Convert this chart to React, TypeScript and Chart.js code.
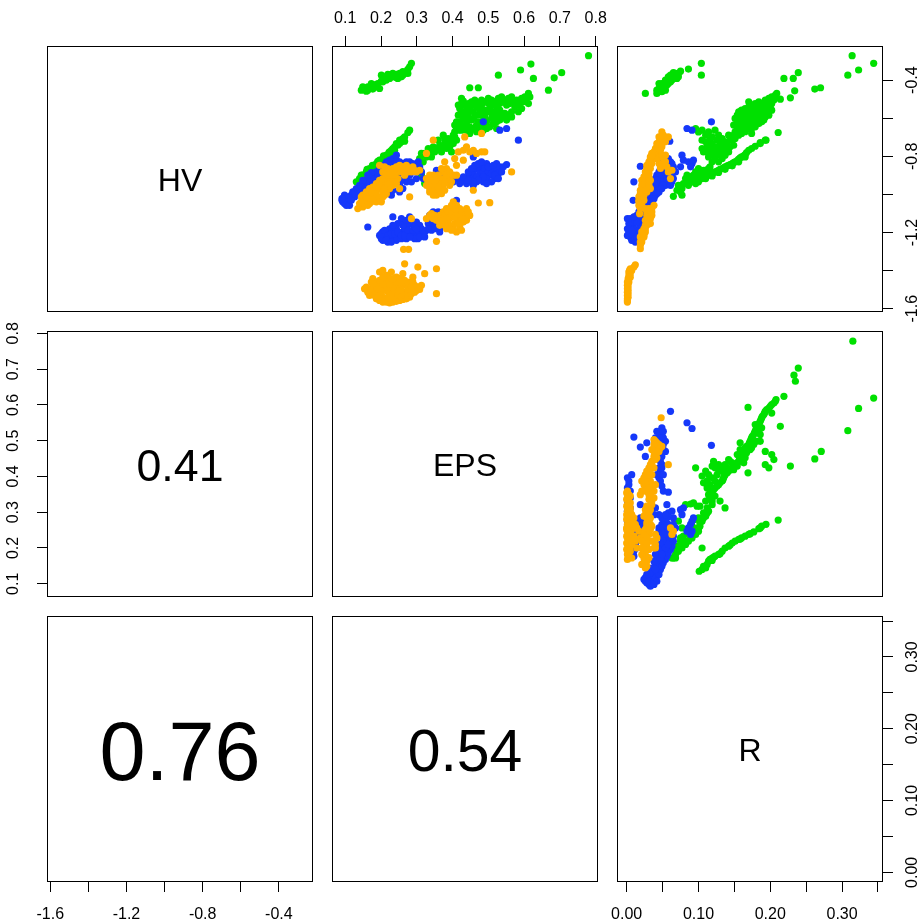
import React, { useEffect, useRef } from "react";
import { Chart, registerables } from "chart.js";

Chart.register(...registerables);

const FONT = '"Liberation Sans", Arial, Helvetica, sans-serif';
const GREEN = "#00E000";
const BLUE = "#1538FA";
const ORANGE = "#FFAD00";

// variable names (diagonal)
const varNames = ["HV", "EPS", "R"];
// correlations (lower panels)
const corEpsHv = 0.41;
const corRHv = 0.76;
const corREps = 0.54;

// axis ranges
const hvRange = [-1.617, -0.221];
const epsRange = [0.063, 0.8065];
const rRange = [-0.0135, 0.357];

// ticks
const hvTicks = [-1.6, -1.4, -1.2, -1.0, -0.8, -0.6, -0.4];
const hvTickLabels = ["-1.6", "", "-1.2", "", "-0.8", "", "-0.4"];
const epsTicks = [0.1, 0.2, 0.3, 0.4, 0.5, 0.6, 0.7, 0.8];
const epsTickLabels = ["0.1", "0.2", "0.3", "0.4", "0.5", "0.6", "0.7", "0.8"];
const rTicks = [0, 0.05, 0.1, 0.15, 0.2, 0.25, 0.3, 0.35];
const rTickLabels = ["0.00", "", "0.10", "", "0.20", "", "0.30", ""];

// ---- EPS (x) vs HV (y) ----
const epsHvGreen = [
  [0.145,-0.453],[0.154,-0.447],[0.163,-0.435],[0.173,-0.43],[0.182,-0.426],[0.196,-0.444],[0.191,-0.418],[0.201,-0.374],
  [0.205,-0.409],[0.215,-0.4],[0.224,-0.391],[0.229,-0.37],[0.233,-0.383],[0.243,-0.37],[0.252,-0.365],[0.257,-0.383],
  [0.261,-0.374],[0.271,-0.356],[0.275,-0.344],[0.285,-0.312],[0.168,-0.444],[0.177,-0.435],[0.187,-0.423],[0.21,-0.395],
  [0.219,-0.383],[0.238,-0.377],[0.247,-0.391],[0.266,-0.365],
  [0.149,-0.435],[0.159,-0.458],[0.173,-0.418],[0.187,-0.435],[0.201,-0.405],[0.21,-0.383],[0.219,-0.37],[0.233,-0.365],
  [0.243,-0.388],[0.252,-0.377],[0.261,-0.356],[0.275,-0.365],[0.28,-0.33],[0.177,-0.447],[0.163,-0.453],
  [0.78,-0.272],[0.619,-0.316],[0.59,-0.347],[0.528,-0.374],[0.705,-0.361],[0.684,-0.388],[0.626,-0.391],[0.668,-0.453],
  [0.448,-0.44],[0.472,-0.44],[0.612,-0.47],[0.616,-0.488],
  [0.425,-0.496],[0.43,-0.51],[0.42,-0.549],[0.416,-0.584],[0.43,-0.566],[0.439,-0.558],[0.448,-0.549],[0.458,-0.566],
  [0.467,-0.54],[0.476,-0.558],[0.481,-0.584],[0.49,-0.593],[0.495,-0.566],[0.5,-0.523],[0.504,-0.549],[0.514,-0.531],
  [0.523,-0.54],[0.532,-0.558],[0.542,-0.514],[0.551,-0.531],[0.56,-0.523],[0.57,-0.514],[0.574,-0.54],[0.579,-0.531],
  [0.588,-0.523],[0.598,-0.514],[0.607,-0.496],[0.523,-0.584],[0.509,-0.601],[0.495,-0.619],[0.486,-0.636],[0.467,-0.636],
  [0.458,-0.654],[0.448,-0.645],[0.439,-0.619],[0.43,-0.601],[0.42,-0.619],[0.411,-0.654],[0.406,-0.671],[0.402,-0.689],
  [0.425,-0.663],[0.439,-0.663],[0.448,-0.68],[0.467,-0.671],[0.476,-0.654],[0.486,-0.663],[0.504,-0.645],[0.514,-0.628],
  [0.523,-0.619],[0.532,-0.61],[0.542,-0.593],[0.546,-0.575],[0.556,-0.584],[0.565,-0.566],[0.523,-0.654],[0.472,-0.619],
  [0.458,-0.601],[0.444,-0.593],[0.434,-0.584],
  [0.416,-0.531],[0.425,-0.523],[0.434,-0.531],[0.444,-0.523],[0.453,-0.514],[0.462,-0.505],[0.472,-0.523],[0.481,-0.505],
  [0.49,-0.514],[0.5,-0.496],[0.509,-0.505],[0.518,-0.514],[0.528,-0.496],[0.537,-0.488],[0.546,-0.505],[0.556,-0.496],
  [0.565,-0.488],[0.579,-0.505],[0.593,-0.496],[0.602,-0.488],[0.612,-0.523],[0.593,-0.549],[0.584,-0.566],[0.565,-0.593],
  [0.551,-0.61],[0.537,-0.584],[0.528,-0.601],[0.518,-0.566],[0.509,-0.575],[0.49,-0.558],[0.481,-0.619],[0.467,-0.584],
  [0.453,-0.61],[0.439,-0.636],[0.425,-0.636],[0.416,-0.663],[0.406,-0.636],[0.411,-0.619],[0.425,-0.575],[0.444,-0.566],
  [0.458,-0.531],[0.495,-0.654],[0.514,-0.601],[0.481,-0.531],[0.532,-0.523],
  [0.374,-0.689],[0.388,-0.707],[0.378,-0.733],[0.364,-0.742],[0.355,-0.759],[0.369,-0.777],[0.383,-0.759],[0.392,-0.75],
  [0.402,-0.733],[0.411,-0.715],[0.346,-0.75],[0.336,-0.777],[0.327,-0.803],[0.313,-0.785],[0.308,-0.812],[0.318,-0.829],
  [0.397,-0.777],[0.308,-0.864],[0.313,-0.899],[0.322,-0.943],[0.336,-0.917],
  [0.36,-0.715],[0.378,-0.707],[0.392,-0.724],[0.35,-0.777],[0.332,-0.759],[0.322,-0.785],[0.341,-0.803],[0.364,-0.759],
  [0.388,-0.742],[0.406,-0.698],[0.397,-0.715],[0.374,-0.75],
  [0.131,-0.934],[0.14,-0.917],[0.149,-0.899],[0.159,-0.882],[0.168,-0.864],[0.177,-0.855],[0.187,-0.838],[0.196,-0.82],
  [0.205,-0.812],[0.215,-0.794],[0.224,-0.777],[0.233,-0.759],[0.243,-0.733],[0.252,-0.715],[0.261,-0.707],[0.275,-0.675],
  [0.154,-0.917],[0.163,-0.896],[0.173,-0.878],[0.182,-0.868],[0.191,-0.847],[0.201,-0.829],[0.21,-0.815],[0.219,-0.803],
  [0.229,-0.785],[0.238,-0.768],[0.247,-0.742],[0.257,-0.724],[0.266,-0.721],
  [0.145,-0.899],[0.161,-0.868],[0.176,-0.847],[0.191,-0.826],[0.207,-0.798],[0.222,-0.78],[0.238,-0.75],[0.252,-0.733],
  [0.138,-0.934],[0.168,-0.882],[0.196,-0.838],[0.229,-0.768],[0.266,-0.698],[0.28,-0.663],
];
const epsHvBlue = [
  [0.093,-1.022],[0.103,-1.013],[0.107,-1.039],[0.098,-1.048],[0.112,-1.022],[0.091,-1.031],[0.117,-1.004],[0.121,-0.987],
  [0.131,-0.969],[0.14,-0.952],[0.149,-0.943],[0.159,-0.926],[0.168,-0.917],[0.177,-0.89],[0.187,-0.882],[0.196,-0.864],
  [0.205,-0.847],[0.215,-0.829],[0.224,-0.82],[0.233,-0.812],[0.243,-0.82],[0.252,-0.829],[0.261,-0.838],[0.271,-0.829],
  [0.28,-0.829],[0.289,-0.838],[0.299,-0.847],[0.243,-0.794],[0.173,-0.885],[0.154,-0.961],[0.163,-0.952],[0.233,-0.899],
  [0.243,-0.926],[0.252,-0.952],[0.261,-0.969],[0.271,-0.917],[0.28,-0.899],[0.289,-0.882],[0.308,-0.855],[0.318,-0.917],
  [0.271,-0.934],[0.224,-0.969],[0.229,-1.004],[0.112,-1.057],[0.103,-1.057],[0.126,-1.013],
  [0.093,-1.039],[0.107,-1.018],[0.117,-1.031],[0.126,-0.987],[0.135,-0.978],[0.145,-0.961],[0.138,-0.996],[0.149,-0.978],
  [0.159,-0.969],[0.168,-0.943],[0.177,-0.934],[0.187,-0.917],[0.196,-0.899],[0.205,-0.882],[0.215,-0.864],[0.224,-0.855],
  [0.233,-0.847],[0.243,-0.838],[0.252,-0.864],[0.261,-0.882],[0.271,-0.864],[0.28,-0.855],[0.289,-0.864],[0.238,-0.882],
  [0.247,-0.899],[0.257,-0.926],[0.229,-0.943],[0.21,-0.926],[0.191,-0.908],[0.173,-0.917],[0.304,-0.829],[0.313,-0.882],
  [0.299,-0.917],[0.285,-0.934],[0.215,-0.978],[0.233,-0.978],[0.252,-0.987],[0.149,-0.926],[0.163,-0.899],[0.098,-1.004],
  [0.091,-1.022],
  [0.355,-0.873],[0.364,-0.917],[0.374,-0.899],[0.411,-0.917],[0.425,-0.926],[0.439,-0.917],[0.448,-0.899],[0.458,-0.882],
  [0.467,-0.864],[0.476,-0.855],[0.486,-0.847],[0.495,-0.838],[0.504,-0.855],[0.514,-0.873],[0.504,-0.899],[0.495,-0.917],
  [0.486,-0.934],[0.467,-0.934],[0.448,-0.934],[0.476,-0.89],[0.523,-0.864],[0.528,-0.89],[0.518,-0.917],[0.509,-0.934],
  [0.458,-0.952],[0.495,-0.943],[0.551,-0.843],[0.411,-1.031],[0.458,-0.917],[0.439,-0.943],[0.467,-0.908],[0.486,-0.882],
  [0.43,-0.908],[0.444,-0.882],[0.453,-0.864],[0.462,-0.847],[0.472,-0.838],[0.481,-0.829],[0.49,-0.864],[0.5,-0.882],
  [0.509,-0.89],[0.518,-0.899],[0.486,-0.908],[0.472,-0.926],[0.458,-0.934],[0.444,-0.926],[0.5,-0.855],[0.514,-0.847],
  [0.523,-0.838],[0.532,-0.855],[0.537,-0.882],[0.383,-0.908],[0.392,-0.926],[0.402,-0.934],[0.42,-0.943],[0.528,-0.917],
  [0.542,-0.855],
  [0.486,-0.619],[0.532,-0.663],[0.551,-0.654],[0.584,-0.715],[0.458,-0.803],
  [0.196,-1.215],[0.205,-1.197],[0.215,-1.215],[0.224,-1.197],[0.233,-1.223],[0.243,-1.215],[0.252,-1.206],[0.261,-1.197],
  [0.271,-1.206],[0.28,-1.197],[0.289,-1.215],[0.299,-1.206],[0.308,-1.197],[0.318,-1.215],[0.327,-1.188],[0.336,-1.171],
  [0.346,-1.162],[0.355,-1.153],[0.364,-1.18],[0.374,-1.162],[0.205,-1.241],[0.219,-1.25],[0.229,-1.232],[0.243,-1.241],
  [0.257,-1.232],[0.271,-1.232],[0.285,-1.223],[0.303,-1.232],[0.224,-1.18],[0.238,-1.188],[0.21,-1.223],[0.201,-1.232],
  [0.233,-1.118],[0.257,-1.127],[0.28,-1.118],[0.285,-1.153],[0.299,-1.145],[0.308,-1.162],[0.336,-1.11],[0.346,-1.092],
  [0.36,-1.092],[0.163,-1.171],[0.243,-1.18],[0.266,-1.18],[0.364,-1.197],[0.355,-1.127],[0.275,-1.162],[0.313,-1.18],
  [0.332,-1.153],
  [0.201,-1.206],[0.21,-1.188],[0.219,-1.215],[0.229,-1.206],[0.238,-1.206],[0.247,-1.197],[0.257,-1.215],[0.266,-1.215],
  [0.275,-1.188],[0.289,-1.188],[0.294,-1.232],[0.308,-1.223],[0.322,-1.197],[0.332,-1.18],[0.341,-1.188],[0.35,-1.18],
  [0.36,-1.127],[0.369,-1.145],[0.294,-1.171],[0.261,-1.162],[0.247,-1.153],[0.233,-1.162],[0.215,-1.241],[0.229,-1.25],
  [0.322,-1.223],[0.336,-1.145],[0.346,-1.127],[0.271,-1.136],[0.299,-1.18],[0.28,-1.223],
];
const epsHvOrange = [
  [0.135,-1.074],[0.149,-1.066],[0.159,-1.039],[0.168,-1.022],[0.177,-1.004],[0.187,-0.987],[0.196,-0.969],[0.205,-0.952],
  [0.215,-0.934],[0.224,-0.917],[0.233,-0.899],[0.243,-0.882],[0.252,-0.864],[0.196,-0.847],[0.205,-0.882],[0.215,-0.89],
  [0.224,-0.873],[0.233,-0.864],[0.243,-0.855],[0.252,-0.847],[0.261,-0.855],[0.28,-0.864],[0.289,-0.855],[0.299,-0.882],
  [0.308,-0.873],[0.149,-1.004],[0.159,-0.987],[0.168,-0.969],[0.177,-0.961],[0.187,-0.943],[0.196,-0.926],[0.205,-0.917],
  [0.219,-0.899],[0.229,-0.934],[0.243,-0.943],[0.252,-0.969],[0.28,-1.013],[0.173,-1.039],[0.182,-1.022],[0.191,-1.013],
  [0.201,-1.039],[0.145,-1.013],[0.154,-1.031],[0.163,-1.013],[0.182,-0.978],[0.191,-0.961],[0.215,-0.952],[0.205,-0.987],
  [0.21,-1.004],[0.233,-0.952],[0.201,-0.934],
  [0.14,-1.048],[0.154,-1.048],[0.168,-1.048],[0.187,-1.039],[0.196,-1.022],[0.205,-1.013],[0.215,-0.996],[0.224,-0.969],
  [0.238,-0.926],[0.247,-0.917],[0.257,-0.882],[0.266,-0.873],[0.275,-0.882],[0.285,-0.882],[0.294,-0.873],[0.271,-0.847],
  [0.21,-0.855],[0.219,-0.864],[0.229,-0.89],[0.238,-0.899],[0.187,-1.004],[0.177,-1.031],[0.163,-1.057],[0.145,-1.039],
  [0.224,-0.943],[0.266,-0.899],[0.159,-1.013],[0.173,-0.987],[0.196,-0.943],[0.21,-0.969],
  [0.327,-0.952],[0.336,-0.969],[0.346,-0.987],[0.355,-1.004],[0.364,-0.978],[0.374,-0.952],[0.383,-0.934],[0.392,-0.917],
  [0.364,-0.934],[0.355,-0.917],[0.346,-0.899],[0.336,-0.934],[0.327,-0.917],[0.374,-0.882],[0.383,-0.864],[0.378,-0.829],
  [0.388,-0.882],[0.355,-0.943],[0.369,-0.961],[0.378,-0.978],[0.392,-0.952],[0.402,-0.899],[0.36,-0.899],[0.336,-0.899],
  [0.332,-0.934],[0.341,-0.952],[0.35,-0.969],[0.36,-0.987],[0.369,-0.996],[0.341,-0.917],[0.35,-0.934],[0.36,-0.961],
  [0.374,-0.917],[0.383,-0.899],[0.392,-0.882],[0.378,-0.934],[0.397,-0.934],[0.346,-1.004],[0.336,-0.987],
  [0.416,-0.777],[0.43,-0.768],[0.439,-0.75],[0.448,-0.777],[0.458,-0.768],[0.467,-0.785],[0.481,-0.777],[0.49,-0.777],
  [0.406,-0.812],[0.43,-0.82],[0.411,-0.847],[0.346,-0.715],[0.327,-0.785],[0.369,-0.864],[0.434,-0.698],[0.481,-0.68],
  [0.565,-0.882],[0.504,-1.043],[0.472,-1.045],[0.458,-0.978],[0.411,-0.899],
  [0.336,-1.11],[0.346,-1.127],[0.355,-1.136],[0.364,-1.11],[0.374,-1.092],[0.383,-1.074],[0.392,-1.092],[0.402,-1.11],
  [0.411,-1.127],[0.42,-1.11],[0.43,-1.092],[0.439,-1.074],[0.448,-1.11],[0.411,-1.057],[0.402,-1.039],[0.392,-1.074],
  [0.383,-1.145],[0.392,-1.162],[0.402,-1.18],[0.411,-1.197],[0.42,-1.171],[0.43,-1.145],[0.439,-1.136],[0.383,-1.18],
  [0.364,-1.162],[0.355,-1.246],[0.285,-1.127],[0.327,-1.127],[0.263,-1.288],[0.277,-1.288],[0.42,-1.074],[0.392,-1.127],
  [0.406,-1.153],[0.425,-1.136],[0.388,-1.118],
  [0.341,-1.101],[0.35,-1.11],[0.36,-1.118],[0.369,-1.127],[0.378,-1.11],[0.388,-1.092],[0.397,-1.101],[0.406,-1.118],
  [0.416,-1.101],[0.425,-1.092],[0.434,-1.11],[0.444,-1.092],[0.397,-1.057],[0.406,-1.074],[0.416,-1.153],[0.425,-1.188],
  [0.397,-1.188],[0.378,-1.162],[0.374,-1.136],[0.434,-1.127],
  [0.159,-1.486],[0.168,-1.495],[0.177,-1.513],[0.187,-1.521],[0.196,-1.53],[0.205,-1.539],[0.215,-1.548],[0.224,-1.556],
  [0.233,-1.548],[0.243,-1.539],[0.252,-1.53],[0.261,-1.521],[0.271,-1.513],[0.28,-1.504],[0.289,-1.495],[0.299,-1.504],
  [0.308,-1.499],[0.177,-1.442],[0.187,-1.46],[0.196,-1.477],[0.205,-1.495],[0.215,-1.504],[0.224,-1.513],[0.233,-1.504],
  [0.243,-1.495],[0.252,-1.486],[0.261,-1.477],[0.271,-1.469],[0.28,-1.46],[0.289,-1.46],[0.187,-1.548],[0.196,-1.556],
  [0.205,-1.565],[0.215,-1.565],[0.224,-1.569],[0.233,-1.565],[0.243,-1.561],[0.252,-1.556],[0.261,-1.551],[0.271,-1.548],
  [0.28,-1.539],[0.196,-1.407],[0.205,-1.399],[0.215,-1.425],[0.224,-1.442],[0.233,-1.46],[0.243,-1.434],[0.252,-1.442],
  [0.261,-1.416],[0.266,-1.364],[0.303,-1.381],[0.322,-1.416],[0.355,-1.39],[0.355,-1.521],[0.21,-1.442],[0.219,-1.469],
  [0.229,-1.486],[0.238,-1.521],[0.247,-1.513],[0.257,-1.504],[0.201,-1.513],[0.191,-1.495],[0.182,-1.486],[0.173,-1.46],
  [0.168,-1.53],[0.247,-1.469],
  [0.163,-1.513],[0.173,-1.504],[0.182,-1.53],[0.191,-1.539],[0.201,-1.548],[0.21,-1.556],[0.219,-1.539],[0.229,-1.53],
  [0.238,-1.539],[0.247,-1.53],[0.257,-1.539],[0.266,-1.53],[0.275,-1.526],[0.285,-1.521],[0.294,-1.513],[0.304,-1.486],
  [0.313,-1.477],[0.275,-1.495],[0.285,-1.486],[0.294,-1.477],[0.233,-1.486],[0.215,-1.486],[0.205,-1.469],[0.196,-1.451],
  [0.187,-1.486],[0.177,-1.469],[0.224,-1.469],[0.243,-1.46],[0.257,-1.46],[0.266,-1.451],[0.233,-1.442],[0.219,-1.425],
  [0.229,-1.407],[0.205,-1.434],[0.154,-1.495],[0.289,-1.434],
];

// ---- R (x) vs HV (y) ----
const rHvGreen = [
  [0.026,-0.47],[0.042,-0.47],[0.045,-0.444],[0.047,-0.426],[0.049,-0.418],[0.051,-0.435],[0.054,-0.453],[0.056,-0.409],
  [0.058,-0.4],[0.061,-0.391],[0.063,-0.383],[0.065,-0.374],[0.068,-0.383],[0.07,-0.391],[0.072,-0.365],[0.075,-0.353],
  [0.086,-0.342],[0.104,-0.312],[0.104,-0.374],[0.047,-0.453],[0.049,-0.461],[0.054,-0.426],[0.058,-0.418],[0.061,-0.409],
  [0.065,-0.391],[0.045,-0.418],
  [0.045,-0.461],[0.049,-0.435],[0.051,-0.418],[0.054,-0.4],[0.056,-0.426],[0.058,-0.383],[0.063,-0.4],[0.068,-0.365],
  [0.07,-0.374],[0.072,-0.383],[0.047,-0.435],[0.042,-0.453],[0.051,-0.453],[0.061,-0.374],[0.065,-0.36],
  [0.314,-0.272],[0.344,-0.312],[0.323,-0.347],[0.308,-0.374],[0.219,-0.391],[0.232,-0.391],[0.239,-0.361],[0.262,-0.447],
  [0.27,-0.44],[0.234,-0.456],[0.228,-0.493],[0.214,-0.5],[0.209,-0.47],[0.211,-0.675],
  [0.156,-0.566],[0.16,-0.558],[0.165,-0.549],[0.17,-0.54],[0.174,-0.531],[0.179,-0.523],[0.184,-0.514],[0.188,-0.523],
  [0.193,-0.505],[0.198,-0.496],[0.202,-0.488],[0.207,-0.479],[0.202,-0.558],[0.198,-0.549],[0.193,-0.566],[0.188,-0.584],
  [0.184,-0.601],[0.179,-0.619],[0.174,-0.636],[0.17,-0.654],[0.165,-0.671],[0.16,-0.68],[0.156,-0.689],[0.151,-0.707],
  [0.154,-0.619],[0.158,-0.601],[0.163,-0.593],[0.167,-0.584],[0.172,-0.575],[0.177,-0.566],[0.181,-0.558],[0.186,-0.549],
  [0.191,-0.54],[0.195,-0.531],[0.191,-0.61],[0.184,-0.566],[0.174,-0.593],[0.165,-0.619],[0.158,-0.636],[0.17,-0.514],
  [0.174,-0.68],[0.186,-0.733],[0.193,-0.715],[0.181,-0.584],[0.198,-0.584],[0.156,-0.636],[0.16,-0.654],[0.163,-0.628],
  [0.154,-0.584],[0.158,-0.566],[0.163,-0.566],[0.167,-0.558],[0.172,-0.549],[0.177,-0.54],[0.181,-0.531],[0.186,-0.531],
  [0.191,-0.523],[0.195,-0.514],[0.2,-0.514],[0.205,-0.505],[0.198,-0.523],[0.193,-0.54],[0.188,-0.549],[0.184,-0.549],
  [0.179,-0.549],[0.174,-0.558],[0.17,-0.566],[0.165,-0.575],[0.16,-0.584],[0.156,-0.593],[0.151,-0.601],[0.149,-0.636],
  [0.154,-0.663],[0.158,-0.671],[0.163,-0.663],[0.167,-0.645],[0.172,-0.619],[0.177,-0.601],[0.181,-0.61],[0.186,-0.584],
  [0.191,-0.566],[0.195,-0.566],[0.2,-0.54],[0.202,-0.523],[0.151,-0.671],[0.156,-0.654],[0.17,-0.601],[0.165,-0.645],
  [0.179,-0.645],[0.174,-0.654],[0.149,-0.689],[0.188,-0.619],[0.184,-0.628],[0.193,-0.593],
  [0.096,-0.654],[0.105,-0.663],[0.114,-0.672],[0.123,-0.663],[0.128,-0.689],[0.133,-0.707],[0.137,-0.724],[0.142,-0.689],
  [0.144,-0.715],[0.105,-0.715],[0.11,-0.724],[0.114,-0.742],[0.119,-0.733],[0.123,-0.75],[0.128,-0.759],[0.119,-0.777],
  [0.114,-0.803],[0.128,-0.794],[0.133,-0.777],[0.137,-0.75],[0.133,-0.812],[0.123,-0.812],[0.119,-0.829],[0.105,-0.759],
  [0.107,-0.777],[0.112,-0.75],[0.147,-0.707],[0.149,-0.742],
  [0.1,-0.672],[0.11,-0.689],[0.119,-0.698],[0.126,-0.715],[0.13,-0.733],[0.14,-0.742],[0.144,-0.75],[0.135,-0.759],
  [0.126,-0.777],[0.116,-0.759],[0.112,-0.777],[0.121,-0.794],[0.128,-0.829],[0.137,-0.794],[0.142,-0.777],[0.116,-0.715],
  [0.119,-0.89],[0.123,-0.882],[0.128,-0.873],[0.133,-0.864],[0.137,-0.855],[0.142,-0.847],[0.147,-0.838],[0.151,-0.829],
  [0.156,-0.815],[0.16,-0.803],[0.165,-0.791],[0.17,-0.768],[0.179,-0.747],[0.186,-0.728],[0.194,-0.715],[0.11,-0.917],
  [0.114,-0.899],[0.121,-0.885],[0.126,-0.878],[0.13,-0.868],[0.135,-0.861],[0.14,-0.85],[0.144,-0.843],[0.149,-0.833],
  [0.154,-0.822],[0.158,-0.808],[0.163,-0.798],[0.167,-0.78],
  [0.119,-0.903],[0.128,-0.885],[0.137,-0.868],[0.147,-0.85],[0.156,-0.829],[0.165,-0.803],[0.174,-0.759],
  [0.065,-1.01],[0.075,-0.987],[0.077,-0.969],[0.072,-0.952],[0.082,-0.917],[0.086,-0.926],[0.091,-0.917],[0.093,-0.899],
  [0.096,-0.882],[0.098,-0.908],[0.1,-0.934],[0.102,-0.917],[0.105,-0.89],[0.107,-0.873],[0.114,-0.864],[0.11,-0.899],
  [0.116,-0.855],[0.1,-0.864],[0.091,-0.934],
  [0.079,-0.943],[0.084,-0.899],[0.089,-0.908],[0.096,-0.917],[0.102,-0.89],[0.11,-0.873],[0.112,-0.882],[0.105,-0.917],
  [0.096,-0.943],[0.086,-0.952],[0.077,-1.004],[0.07,-0.978],
];
const rHvBlue = [
  [0.001,-1.127],[0.003,-1.153],[0.001,-1.18],[0.003,-1.206],[0.005,-1.223],[0.007,-1.241],[0.01,-1.232],[0.012,-1.215],
  [0.014,-1.197],[0.017,-1.18],[0.019,-1.162],[0.021,-1.145],[0.005,-1.188],[0.007,-1.171],[0.01,-1.153],[0.003,-1.215],
  [0.001,-1.215],[0.012,-1.25],[0.014,-1.11],[0.017,-1.092],[0.019,-1.074],[0.021,-1.057],[0.024,-1.039],[0.026,-1.022],
  [0.028,-1.004],[0.031,-0.987],[0.033,-0.969],[0.035,-0.952],[0.038,-0.934],[0.04,-0.917],[0.042,-0.899],[0.045,-0.882],
  [0.047,-0.864],[0.049,-0.847],[0.051,-0.829],[0.054,-0.812],[0.056,-0.838],[0.058,-0.864],[0.061,-0.882],[0.063,-0.899],
  [0.065,-0.917],[0.058,-0.934],[0.054,-0.952],[0.049,-0.969],[0.045,-0.987],[0.04,-1.004],[0.035,-1.022],[0.031,-1.039],
  [0.026,-1.057],[0.021,-1.092],[0.017,-1.11],[0.01,-0.934],[0.009,-1.031],[0.019,-0.852],[0.06,-0.721],[0.049,-0.815],
  [0.054,-0.855],[0.061,-0.855],[0.065,-0.868],[0.056,-0.899],[0.051,-0.934],[0.047,-0.952],[0.042,-0.969],[0.038,-0.996],
  [0.033,-1.013],[0.028,-1.039],
  [0.005,-1.127],[0.007,-1.145],[0.005,-1.162],[0.01,-1.18],[0.012,-1.188],[0.007,-1.206],[0.012,-1.232],[0.017,-1.206],
  [0.019,-1.188],[0.021,-1.171],[0.024,-1.153],[0.024,-1.11],[0.026,-1.092],[0.028,-1.074],[0.031,-1.057],[0.033,-1.039],
  [0.035,-1.039],[0.038,-1.013],[0.04,-0.987],[0.042,-0.978],[0.045,-0.961],[0.047,-0.934],[0.049,-0.917],[0.051,-0.899],
  [0.054,-0.882],[0.056,-0.864],[0.058,-0.847],[0.061,-0.829],[0.063,-0.838],[0.065,-0.855],[0.061,-0.908],[0.056,-0.926],
  [0.051,-0.952],[0.047,-0.969],[0.042,-0.996],[0.038,-1.022],[0.033,-1.048],[0.026,-1.074],[0.021,-1.11],[0.019,-1.127],
  [0.014,-1.145],[0.01,-1.118],[0.003,-1.18],[0.007,-1.188],[0.014,-1.223],[0.058,-0.812],[0.054,-0.838],[0.051,-0.864],
  [0.049,-0.882],[0.047,-0.899],[0.042,-0.926],[0.04,-0.943],[0.035,-0.978],[0.031,-1.004],[0.026,-1.039],
  [0.084,-0.654],[0.091,-0.663],[0.118,-0.619],[0.077,-0.794],[0.079,-0.82],[0.086,-0.829],[0.091,-0.838],[0.093,-0.82],
  [0.089,-0.855],[0.075,-0.855],[0.068,-0.882],[0.063,-0.934],[0.061,-0.952],
];
const rHvOrange = [
  [0.049,-0.672],[0.058,-0.698],[0.049,-0.715],[0.047,-0.742],[0.045,-0.759],[0.042,-0.777],[0.04,-0.785],[0.038,-0.794],
  [0.035,-0.812],[0.033,-0.829],[0.031,-0.855],[0.028,-0.882],[0.026,-0.899],[0.026,-0.917],[0.024,-0.934],[0.024,-0.952],
  [0.021,-0.969],[0.021,-0.987],[0.019,-1.004],[0.019,-1.022],[0.017,-1.039],[0.017,-1.057],[0.019,-1.074],[0.018,-1.101],
  [0.038,-0.812],[0.04,-0.803],[0.035,-0.838],[0.033,-0.864],[0.031,-0.89],[0.028,-0.917],[0.026,-0.934],[0.026,-0.961],
  [0.024,-0.978],[0.024,-1.004],[0.021,-1.031],[0.045,-0.794],[0.042,-0.812],[0.045,-0.838],[0.047,-0.864],[0.049,-0.847],
  [0.054,-0.829],[0.063,-0.873],[0.061,-0.917],[0.031,-0.934],[0.028,-0.952],[0.033,-0.969],[0.028,-0.987],
  [0.047,-0.707],[0.045,-0.724],[0.042,-0.75],[0.04,-0.768],[0.038,-0.777],[0.035,-0.794],[0.033,-0.812],[0.031,-0.838],
  [0.028,-0.864],[0.026,-0.882],[0.024,-0.908],[0.021,-0.926],[0.021,-0.952],[0.019,-0.978],[0.019,-0.996],[0.017,-1.013],
  [0.017,-1.031],[0.028,-0.847],[0.031,-0.829],[0.033,-0.803],[0.035,-0.785],[0.04,-0.759],[0.042,-0.733],[0.045,-0.698],
  [0.051,-0.689],[0.054,-0.724],[0.049,-0.75],[0.047,-0.768],[0.049,-0.794],[0.051,-0.812],[0.054,-0.794],[0.056,-0.855],
  [0.058,-0.882],[0.031,-0.908],[0.033,-0.926],[0.031,-0.952],[0.026,-0.978],[0.024,-1.031],[0.021,-1.048],[0.019,-1.057],
  [0.026,-1.074],[0.028,-1.092],[0.031,-1.11],[0.033,-1.127],[0.031,-1.145],[0.028,-1.162],[0.026,-1.18],[0.024,-1.197],
  [0.021,-1.215],[0.021,-1.232],[0.019,-1.25],[0.019,-1.285],[0.035,-1.074],[0.038,-1.057],[0.035,-1.11],[0.033,-1.153],
  [0.026,-1.197],[0.024,-1.223],
  [0.028,-1.11],[0.031,-1.127],[0.028,-1.145],[0.026,-1.162],[0.024,-1.18],[0.021,-1.197],[0.019,-1.223],[0.019,-1.267],
  [0.021,-1.25],[0.033,-1.092],[0.035,-1.092],[0.031,-1.074],[0.024,-1.215],[0.026,-1.136],
  [0.012,-1.369],[0.01,-1.381],[0.005,-1.39],[0.003,-1.407],[0.003,-1.425],[0.002,-1.442],[0.001,-1.46],[0.001,-1.477],
  [0.001,-1.495],[0.001,-1.513],[0.001,-1.53],[0.001,-1.548],[0.001,-1.565],[0.005,-1.416],[0.007,-1.399],[0.003,-1.46],
  [0.002,-1.486],[0.003,-1.442],[0.002,-1.469],[0.002,-1.504],[0.002,-1.539],[0.004,-1.399],[0.001,-1.556],[0.005,-1.434],
  [0.002,-1.521],
];

// ---- R (x) vs EPS (y) ----
const rEpsGreen = [
  [0.315,0.778],[0.239,0.703],[0.233,0.683],[0.235,0.666],[0.344,0.619],[0.323,0.59],[0.308,0.528],[0.271,0.47],
  [0.262,0.449],[0.228,0.429],[0.219,0.624],[0.208,0.615],[0.202,0.577],[0.214,0.54],[0.169,0.593],[0.193,0.47],
  [0.202,0.461],[0.205,0.447],[0.193,0.433],[0.198,0.424],[0.169,0.41],
  [0.207,0.61],[0.202,0.601],[0.198,0.591],[0.193,0.582],[0.191,0.573],[0.188,0.564],[0.186,0.554],[0.184,0.545],
  [0.181,0.536],[0.179,0.526],[0.177,0.517],[0.174,0.508],[0.172,0.498],[0.17,0.489],[0.165,0.48],[0.163,0.47],
  [0.16,0.461],[0.158,0.452],[0.156,0.442],[0.151,0.433],[0.147,0.424],[0.142,0.415],[0.137,0.405],[0.135,0.396],
  [0.133,0.387],[0.128,0.377],[0.123,0.368],[0.119,0.359],[0.114,0.349],[0.186,0.498],[0.184,0.526],[0.179,0.545],
  [0.174,0.48],[0.165,0.452],[0.163,0.438],[0.158,0.494],[0.154,0.429],[0.149,0.419],[0.144,0.442],[0.14,0.424],
  [0.133,0.415],[0.128,0.433],[0.121,0.442],[0.119,0.429],[0.126,0.405],[0.11,0.415],[0.105,0.401],[0.096,0.424],
  [0.107,0.382],[0.112,0.368],[0.116,0.377],[0.123,0.387],[0.13,0.331],[0.137,0.312],[0.119,0.321],[0.116,0.34],
  [0.102,0.317],[0.093,0.326],[0.082,0.321],[0.114,0.303],[0.11,0.289],[0.105,0.275],[0.102,0.261],[0.1,0.247],
  [0.096,0.238],[0.091,0.228],[0.086,0.219],[0.082,0.21],[0.077,0.2],[0.072,0.191],[0.068,0.182],[0.065,0.172],
  [0.107,0.298],[0.112,0.312],[0.096,0.28],[0.093,0.256],[0.086,0.242],[0.079,0.233],[0.075,0.219],[0.07,0.205],
  [0.105,0.2],[0.077,0.256],[0.072,0.275],[0.075,0.228],
  [0.205,0.605],[0.2,0.596],[0.195,0.587],[0.192,0.577],[0.189,0.568],[0.187,0.559],[0.185,0.55],[0.182,0.54],
  [0.18,0.531],[0.178,0.522],[0.175,0.512],[0.173,0.503],[0.171,0.494],[0.167,0.484],[0.164,0.475],[0.161,0.466],
  [0.159,0.456],[0.157,0.447],[0.154,0.438],[0.149,0.428],[0.144,0.419],[0.14,0.41],[0.136,0.401],[0.134,0.391],
  [0.13,0.382],[0.126,0.373],[0.121,0.363],[0.116,0.354],[0.188,0.536],[0.186,0.517],[0.181,0.498],[0.177,0.489],
  [0.172,0.475],[0.167,0.466],[0.163,0.456],[0.154,0.461],[0.158,0.475],[0.147,0.438],[0.142,0.447],[0.137,0.433],
  [0.133,0.424],[0.128,0.419],[0.123,0.424],[0.114,0.405],[0.112,0.387],[0.119,0.396],[0.123,0.345],[0.119,0.331],
  [0.11,0.331],[0.098,0.317],[0.089,0.323],
  [0.112,0.298],[0.107,0.284],[0.102,0.27],[0.1,0.256],[0.098,0.247],[0.093,0.238],[0.089,0.228],[0.084,0.219],
  [0.079,0.21],[0.075,0.2],[0.07,0.191],[0.068,0.172],[0.063,0.172],[0.091,0.261],[0.084,0.252],[0.1,0.284],
  [0.101,0.135],[0.107,0.149],[0.112,0.154],[0.114,0.163],[0.119,0.172],[0.123,0.177],[0.128,0.182],[0.133,0.191],
  [0.137,0.2],[0.142,0.205],[0.147,0.214],[0.151,0.219],[0.156,0.224],[0.16,0.228],[0.165,0.233],[0.17,0.238],
  [0.177,0.245],[0.184,0.254],[0.188,0.261],[0.194,0.266],[0.211,0.278],[0.11,0.144],[0.116,0.168],[0.121,0.174],
  [0.105,0.14],[0.119,0.165],[0.13,0.184],[0.144,0.208],[0.158,0.225],[0.172,0.24],[0.186,0.256],
];
const rEpsBlue = [
  [0.026,0.107],[0.031,0.098],[0.033,0.093],[0.035,0.103],[0.038,0.117],[0.04,0.126],[0.042,0.135],[0.045,0.144],
  [0.047,0.154],[0.049,0.163],[0.051,0.172],[0.054,0.182],[0.056,0.191],[0.058,0.2],[0.061,0.21],[0.063,0.219],
  [0.058,0.219],[0.054,0.228],[0.049,0.238],[0.047,0.247],[0.045,0.256],[0.049,0.266],[0.054,0.275],[0.058,0.266],
  [0.061,0.256],[0.065,0.266],[0.063,0.238],[0.054,0.21],[0.049,0.2],[0.045,0.182],[0.042,0.163],[0.04,0.154],
  [0.038,0.144],[0.035,0.126],[0.031,0.117],[0.026,0.117],[0.024,0.112],[0.042,0.121],[0.033,0.107],[0.035,0.117],
  [0.028,0.103],[0.031,0.107],[0.038,0.107],[0.04,0.117],[0.045,0.126],[0.047,0.14],[0.049,0.149],[0.051,0.159],
  [0.054,0.168],[0.056,0.177],[0.058,0.186],[0.061,0.196],[0.063,0.205],[0.065,0.219],[0.065,0.233],[0.061,0.228],
  [0.056,0.219],[0.051,0.219],[0.047,0.233],[0.045,0.247],[0.051,0.256],[0.056,0.261],[0.061,0.247],[0.056,0.242],
  [0.051,0.238],[0.047,0.21],[0.045,0.196],[0.04,0.182],[0.038,0.163],[0.035,0.144],[0.033,0.131],[0.028,0.126],
  [0.04,0.14],[0.047,0.172],[0.054,0.2],[0.058,0.21],[0.049,0.182],[0.042,0.107],[0.038,0.098],[0.056,0.284],
  [0.058,0.298],[0.049,0.284],[0.054,0.293],
  [0.068,0.256],[0.075,0.307],[0.077,0.293],[0.079,0.312],[0.086,0.256],[0.089,0.266],[0.091,0.275],[0.093,0.284],
  [0.091,0.247],[0.089,0.238],[0.084,0.247],[0.063,0.303],[0.065,0.284],[0.056,0.321],[0.045,0.293],[0.04,0.312],
  [0.038,0.293],
  [0.001,0.396],[0.003,0.377],[0.005,0.359],[0.007,0.405],[0.005,0.34],[0.003,0.321],[0.001,0.303],[0.003,0.284],
  [0.005,0.266],[0.007,0.247],[0.01,0.238],[0.012,0.228],[0.014,0.219],[0.017,0.275],[0.019,0.284],[0.021,0.266],
  [0.01,0.21],[0.007,0.2],[0.005,0.219],[0.012,0.256],[0.014,0.247],[0.017,0.238],[0.01,0.177],[0.019,0.321],
  [0.003,0.387],[0.001,0.368],[0.003,0.349],[0.001,0.331],[0.005,0.312],[0.003,0.293],[0.001,0.275],[0.005,0.256],
  [0.007,0.238],[0.007,0.228],[0.012,0.21],[0.014,0.2],[0.01,0.191],[0.012,0.247],[0.017,0.256],[0.019,0.266],
  [0.024,0.275],
  [0.01,0.51],[0.019,0.482],[0.026,0.456],[0.028,0.494],[0.042,0.526],[0.047,0.526],[0.049,0.517],[0.051,0.508],
  [0.054,0.498],[0.051,0.489],[0.049,0.48],[0.054,0.47],[0.047,0.461],[0.045,0.447],[0.049,0.433],[0.047,0.41],
  [0.045,0.396],[0.051,0.359],[0.058,0.356],[0.049,0.536],[0.04,0.508],[0.061,0.582],[0.084,0.55],[0.091,0.534],
  [0.118,0.487],[0.045,0.424],[0.042,0.405],
  [0.045,0.526],[0.049,0.508],[0.047,0.494],[0.051,0.475],[0.049,0.456],[0.047,0.442],[0.049,0.424],[0.051,0.405],
  [0.047,0.387],[0.049,0.373],[0.045,0.508],[0.051,0.526],
];
const rEpsOrange = [
  [0.001,0.359],[0.003,0.349],[0.001,0.34],[0.003,0.331],[0.001,0.321],[0.003,0.312],[0.001,0.303],[0.0,0.293],
  [0.001,0.284],[0.003,0.275],[0.001,0.266],[0.0,0.256],[0.001,0.247],[0.003,0.238],[0.001,0.228],[0.003,0.219],
  [0.001,0.21],[0.003,0.2],[0.005,0.191],[0.001,0.182],[0.007,0.172],[0.005,0.312],[0.005,0.256],[0.005,0.238],
  [0.007,0.293],[0.007,0.275],[0.012,0.266],[0.014,0.256],[0.017,0.247],[0.01,0.233],[0.012,0.219],[0.014,0.2],
  [0.007,0.21],[0.019,0.228],
  [0.0,0.354],[0.005,0.345],[0.0,0.336],[0.005,0.326],[0.0,0.317],[0.005,0.303],[0.003,0.289],[0.0,0.28],
  [0.005,0.27],[0.003,0.261],[0.0,0.252],[0.005,0.242],[0.0,0.233],[0.005,0.224],[0.0,0.214],[0.005,0.205],
  [0.0,0.196],[0.003,0.186],[0.001,0.168],[0.007,0.252],[0.01,0.261],[0.01,0.284],
  [0.048,0.564],[0.038,0.503],[0.04,0.498],[0.042,0.494],[0.045,0.489],[0.04,0.48],[0.038,0.47],[0.04,0.461],
  [0.042,0.452],[0.038,0.447],[0.035,0.442],[0.033,0.433],[0.031,0.424],[0.028,0.415],[0.026,0.405],[0.024,0.396],
  [0.021,0.387],[0.024,0.377],[0.026,0.368],[0.028,0.359],[0.031,0.349],[0.033,0.34],[0.035,0.331],[0.033,0.321],
  [0.031,0.312],[0.028,0.303],[0.026,0.293],[0.028,0.284],[0.031,0.275],[0.033,0.266],[0.031,0.256],[0.028,0.247],
  [0.026,0.238],[0.024,0.228],[0.026,0.219],[0.024,0.21],[0.026,0.2],[0.024,0.191],[0.026,0.182],[0.024,0.172],
  [0.028,0.163],[0.021,0.154],[0.026,0.144],[0.045,0.47],[0.047,0.48],[0.049,0.484],[0.058,0.433],[0.035,0.405],
  [0.033,0.387],[0.031,0.377],[0.028,0.387],[0.035,0.368],[0.038,0.359],[0.04,0.377],[0.033,0.368],[0.021,0.359],
  [0.019,0.349],[0.042,0.228],[0.04,0.21],[0.038,0.2],[0.035,0.219],[0.061,0.256],[0.065,0.247],[0.063,0.238],
  [0.042,0.484],[0.038,0.489],[0.035,0.475],[0.042,0.466],[0.038,0.456],[0.04,0.447],[0.035,0.433],[0.038,0.424],
  [0.031,0.415],[0.033,0.405],[0.026,0.396],[0.028,0.405],[0.026,0.382],[0.031,0.368],[0.026,0.359],[0.033,0.349],
  [0.031,0.336],[0.038,0.34],[0.035,0.321],[0.028,0.317],[0.033,0.307],[0.026,0.307],[0.031,0.298],[0.024,0.289],
  [0.033,0.284],[0.028,0.27],[0.035,0.261],[0.028,0.261],[0.026,0.252],[0.033,0.252],[0.031,0.238],[0.024,0.238],
  [0.028,0.228],[0.021,0.219],[0.028,0.21],[0.021,0.2],[0.028,0.196],[0.021,0.182],[0.026,0.168],[0.024,0.159],
  [0.028,0.149],[0.031,0.173],[0.031,0.196],[0.038,0.219],[0.04,0.238],[0.04,0.2],
];

// ---- layout (pixels) ----
const COL_X = [47, 332, 617];
const ROW_Y = [46, 331, 616];
const CELL = 266;
const MARGIN = 50;
const TICK_FONT = 16;
const LABEL_FONT = 32;
const POINT_RADIUS = 3.6;
const corFont = (r: number) => 109 * r;

type Series = { data: number[][]; color: string; order: number };
type Axis = { side: "top" | "bottom" | "left" | "right"; ticks: number[]; labels: string[] };
type PanelProps = {
  row: number;
  col: number;
  xRange: number[];
  yRange: number[];
  series?: Series[];
  xAxis?: Axis;
  yAxis?: Axis;
  text?: string;
  textSize?: number;
};

function Panel({ row, col, xRange, yRange, series = [], xAxis, yAxis, text, textSize = LABEL_FONT }: PanelProps) {
  const ref = useRef<HTMLCanvasElement | null>(null);
  const W = CELL + 2 * MARGIN;

  useEffect(() => {
    const canvas = ref.current;
    if (!canvas) return;
    const makeScale = (range: number[], axis: Axis | undefined, horizontal: boolean): any => ({
      type: "linear",
      min: range[0],
      max: range[1],
      position: axis ? axis.side : horizontal ? "bottom" : "left",
      display: !!axis,
      grid: {
        display: true,
        drawOnChartArea: false,
        drawTicks: true,
        tickLength: 10,
        tickWidth: 1,
        tickColor: "#000",
        color: "#000",
        lineWidth: 1,
      },
      border: { display: false },
      ticks: { display: false },
      afterBuildTicks: (s: any) => {
        if (axis) s.ticks = axis.ticks.map((v) => ({ value: v }));
      },
      afterFit: (s: any) => {
        if (horizontal) s.height = 0;
        else s.width = 0;
      },
    });

    const decor = {
      id: "pairsDecor",
      afterDraw(chart: any) {
        const ctx = chart.ctx as CanvasRenderingContext2D;
        const a = chart.chartArea;
        ctx.save();
        ctx.strokeStyle = "#000";
        ctx.lineWidth = 1;
        ctx.strokeRect(a.left + 0.5, a.top + 0.5, a.right - a.left - 1, a.bottom - a.top - 1);
        ctx.fillStyle = "#000";
        ctx.textAlign = "center";
        ctx.textBaseline = "alphabetic";
        ctx.font = `${TICK_FONT}px ${FONT}`;
        const half = TICK_FONT * 0.358;
        if (xAxis) {
          const s = chart.scales.x;
          const y = xAxis.side === "top" ? a.top - 28.5 : a.bottom + 31;
          xAxis.ticks.forEach((v, i) => {
            const lab = xAxis.labels[i];
            if (!lab) return;
            ctx.fillText(lab, s.getPixelForValue(v), y + half);
          });
        }
        if (yAxis) {
          const s = chart.scales.y;
          const x = yAxis.side === "left" ? a.left - 35 : a.right + 28.5;
          yAxis.ticks.forEach((v, i) => {
            const lab = yAxis.labels[i];
            if (!lab) return;
            ctx.save();
            ctx.translate(x, s.getPixelForValue(v));
            ctx.rotate(-Math.PI / 2);
            ctx.fillText(lab, 0, half);
            ctx.restore();
          });
        }
        if (text) {
          ctx.font = `${textSize}px ${FONT}`;
          ctx.fillText(text, (a.left + a.right) / 2, (a.top + a.bottom) / 2 + textSize * 0.358 + 1);
        }
        ctx.restore();
      },
    };

    const chart = new Chart(canvas, {
      type: "scatter",
      data: {
        datasets: series.map((s) => ({
          data: s.data.map(([x, y]) => ({ x, y })),
          backgroundColor: s.color,
          borderWidth: 0,
          pointRadius: POINT_RADIUS,
          pointHoverRadius: POINT_RADIUS,
          order: s.order,
        })),
      },
      options: {
        animation: false,
        responsive: false,
        devicePixelRatio: 1,
        events: [],
        layout: { padding: MARGIN },
        plugins: { legend: { display: false }, tooltip: { enabled: false } },
        scales: {
          x: makeScale(xRange, xAxis, true),
          y: makeScale(yRange, yAxis, false),
        },
      } as any,
      plugins: [decor],
    });
    return () => chart.destroy();
  }, []);

  return (
    <canvas
      ref={ref}
      width={W}
      height={W}
      style={{ position: "absolute", left: COL_X[col] - MARGIN, top: ROW_Y[row] - MARGIN, width: W, height: W }}
    />
  );
}

const threeSeries = (g: number[][], b: number[][], o: number[][]): Series[] => [
  { data: o, color: ORANGE, order: 1 },
  { data: b, color: BLUE, order: 2 },
  { data: g, color: GREEN, order: 3 },
];

export default function App() {
  return (
    <div
      style={{
        position: "fixed",
        left: 0,
        top: 0,
        width: 919,
        height: 921,
        overflow: "hidden",
        background: "#fff",
      }}
    >
      <Panel row={0} col={0} xRange={hvRange} yRange={hvRange} text={varNames[0]} />
      <Panel
        row={0}
        col={1}
        xRange={epsRange}
        yRange={hvRange}
        xAxis={{ side: "top", ticks: epsTicks, labels: epsTickLabels }}
        series={threeSeries(epsHvGreen, epsHvBlue, epsHvOrange)}
      />
      <Panel
        row={0}
        col={2}
        xRange={rRange}
        yRange={hvRange}
        yAxis={{ side: "right", ticks: hvTicks, labels: hvTickLabels }}
        series={threeSeries(rHvGreen, rHvBlue, rHvOrange)}
      />
      <Panel
        row={1}
        col={0}
        xRange={hvRange}
        yRange={epsRange}
        yAxis={{ side: "left", ticks: epsTicks, labels: epsTickLabels }}
        text={corEpsHv.toFixed(2)}
        textSize={corFont(corEpsHv)}
      />
      <Panel row={1} col={1} xRange={epsRange} yRange={epsRange} text={varNames[1]} />
      <Panel
        row={1}
        col={2}
        xRange={rRange}
        yRange={epsRange}
        series={threeSeries(rEpsGreen, rEpsBlue, rEpsOrange)}
      />
      <Panel
        row={2}
        col={0}
        xRange={hvRange}
        yRange={rRange}
        xAxis={{ side: "bottom", ticks: hvTicks, labels: hvTickLabels }}
        text={corRHv.toFixed(2)}
        textSize={corFont(corRHv)}
      />
      <Panel
        row={2}
        col={1}
        xRange={epsRange}
        yRange={rRange}
        text={corREps.toFixed(2)}
        textSize={corFont(corREps)}
      />
      <Panel
        row={2}
        col={2}
        xRange={rRange}
        yRange={rRange}
        xAxis={{ side: "bottom", ticks: rTicks, labels: rTickLabels }}
        yAxis={{ side: "right", ticks: rTicks, labels: rTickLabels }}
        text={varNames[2]}
      />
    </div>
  );
}
